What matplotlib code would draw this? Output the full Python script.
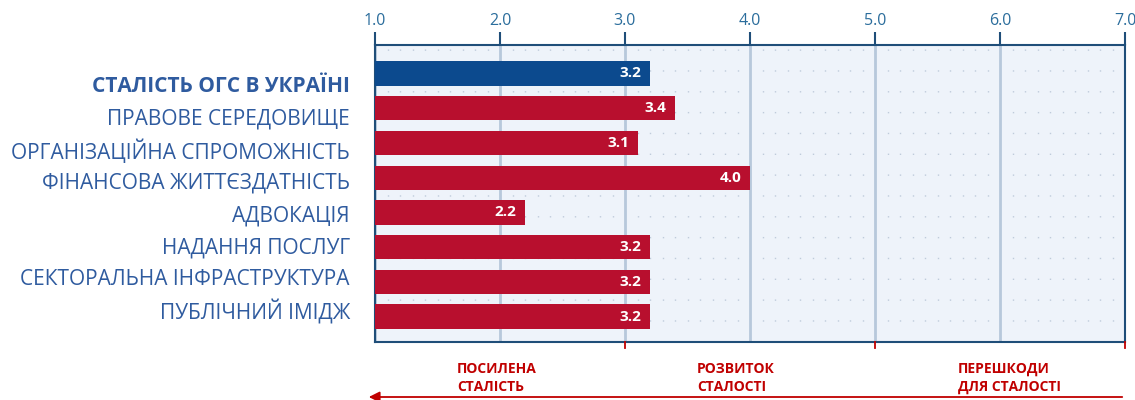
import matplotlib
matplotlib.use("Agg")
import matplotlib.pyplot as plt
import matplotlib.transforms as mtransforms
import numpy as np
from matplotlib.ticker import MultipleLocator

categories = [
    "СТАЛІСТЬ ОГС В УКРАЇНІ",
    "ПРАВОВЕ СЕРЕДОВИЩЕ",
    "ОРГАНІЗАЦІЙНА СПРОМОЖНІСТЬ",
    "ФІНАНСОВА ЖИТТЄЗДАТНІСТЬ",
    "АДВОКАЦІЯ",
    "НАДАННЯ ПОСЛУГ",
    "СЕКТОРАЛЬНА ІНФРАСТРУКТУРА",
    "ПУБЛІЧНИЙ ІМІДЖ",
]
values = [3.2, 3.4, 3.1, 4.0, 2.2, 3.2, 3.2, 3.2]
xticks = [1.0, 2.0, 3.0, 4.0, 5.0, 6.0, 7.0]
xtick_labels = ["1.0", "2.0", "3.0", "4.0", "5.0", "6.0", "7.0"]
zone_labels = ["ПОСИЛЕНА\nСТАЛІСТЬ", "РОЗВИТОК\nСТАЛОСТІ", "ПЕРЕШКОДИ\nДЛЯ СТАЛОСТІ"]
zone_x = [1.656, 3.576, 5.664]

FONT = ["Open Sans", "DejaVu Sans"]
plt.rcParams["font.family"] = FONT

BLUE_BAR = "#0c4a8e"
RED_BAR = "#b80f2e"
LABEL_BLUE = "#2f5b9f"
TICK_BLUE = "#2b6d9c"
DARK = "#1f4e79"
RED_TXT = "#c00000"

fig = plt.figure(figsize=(11.35, 4.0), dpi=100)
ax = fig.add_axes([375 / 1135, 1 - 342 / 400, 750 / 1135, (342 - 45) / 400])
ax.set_facecolor("#eef3fa")

y = np.arange(len(values))
colors = [BLUE_BAR] + [RED_BAR] * (len(values) - 1)
base = 1.0
bars = ax.barh(y, [v - base for v in values], left=base, height=0.70,
               color=colors, zorder=3)
for yi, v in zip(y, values):
    ax.annotate(f"{v:.1f}", xy=(v, yi), xytext=(-6, 0), textcoords="offset points",
                ha="right", va="center", color="white", fontsize=11,
                fontweight="bold", zorder=4)

ax.set_xlim(1.0, 7.0)
ax.set_ylim(7.73, -0.82)

# dotted background grid
ax.xaxis.set_minor_locator(MultipleLocator(0.1))
ax.grid(which="minor", axis="x", color="#bfcbdb", linewidth=1.0,
        linestyle=(0, (1, 14)), zorder=1)
ax.grid(which="major", axis="x", color="#b7c8db", linewidth=2.0, zorder=2)

ax.set_yticks([])
ax.xaxis.set_ticks_position("top")
ax.set_xticks(xticks)
ax.set_xticklabels(xtick_labels)
ax.tick_params(axis="x", which="major", direction="out", length=9.5, width=1.5,
               color=DARK, labelcolor=TICK_BLUE, labelsize=11.5, pad=2)
ax.tick_params(axis="x", which="minor", length=0)
for s in ["top", "bottom", "left", "right"]:
    ax.spines[s].set_color(DARK)
    ax.spines[s].set_linewidth(1.5)

# red ticks on bottom
for xv in [3.0, 5.0, 7.0]:
    ax.plot([xv, xv], [7.73, 7.9], color=RED_TXT, linewidth=1.3,
            clip_on=False, zorder=5)

# category labels
y0 = 1 - 87 / 400
step = 32.15 / 400
for i, c in enumerate(categories):
    fig.text(350 / 1135, y0 - i * step, c, ha="right", va="center",
             color=LABEL_BLUE, fontsize=15,
             fontweight="bold" if i == 0 else "normal")

# zone labels
trans = mtransforms.blended_transform_factory(ax.transData, fig.transFigure)
for xv, t in zip(zone_x, zone_labels):
    ax.text(xv, 1 - 378 / 400, t, transform=trans, ha="left", va="center",
            color=RED_TXT, fontsize=10, fontweight="bold", linespacing=1.3,
            clip_on=False)

# arrow
fig.patches.append(matplotlib.patches.FancyArrowPatch(
    (1125 / 1135, 1 - 397 / 400), (366 / 1135, 1 - 397 / 400),
    transform=fig.transFigure, arrowstyle="-|>", mutation_scale=16,
    color=RED_TXT, linewidth=1.3))

fig.savefig("out.png", dpi=100)
